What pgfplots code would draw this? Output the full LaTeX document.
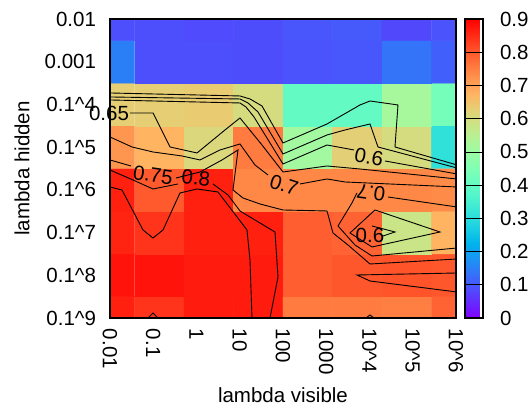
\documentclass[border=0pt]{standalone}
\usepackage{fontspec}
\setmainfont{Liberation Sans}
\usepackage{pgfplots}
\pgfplotsset{compat=1.18}
\pgfplotsset{colormap={gprainbow}{
rgb255=(128,0,255) rgb255=(102,40,254) rgb255=(77,79,252) rgb255=(51,116,248)
rgb255=(26,150,243) rgb255=(0,180,236) rgb255=(26,206,227) rgb255=(51,227,217)
rgb255=(77,243,206) rgb255=(102,252,194) rgb255=(128,255,180) rgb255=(153,252,165)
rgb255=(179,243,150) rgb255=(204,227,133) rgb255=(230,206,116) rgb255=(255,180,98)
rgb255=(255,150,79) rgb255=(255,116,59) rgb255=(255,79,40) rgb255=(255,40,20)
rgb255=(255,0,0)}}
\pgfplotsset{cline/.style={black, line width=0.9pt, no marks}}
\newcommand{\cl}[1]{\addplot[cline] table[header=false, row sep=\\, x expr={(\thisrowno{0}-110)/49.43}, y expr={(318-\thisrowno{1})/42.71}] {#1};}
\begin{document}
\fontsize{20.5pt}{24pt}\selectfont
\begin{tikzpicture}[x=1pt,y=1pt]
\begin{axis}[
  name=ax,
  scale only axis, width=346pt, height=299pt,
  xmin=0, xmax=7, ymin=0, ymax=7,
  clip mode=individual, axis on top,
  colormap name=gprainbow, point meta min=0, point meta max=0.9,
  axis line style={line width=1.2pt},
  major tick length=0pt,
  xtick={0,0.875,1.75,2.625,3.5,4.375,5.25,6.125,7},
  xticklabels={0.01,0.1,1,10,100,1000,10\textasciicircum 4,10\textasciicircum 5,10\textasciicircum 6},
  ytick={0,1,2,3,4,5,6,7},
  yticklabels={0.1\textasciicircum 9,0.1\textasciicircum 8,0.1\textasciicircum 7,0.1\textasciicircum 6,0.1\textasciicircum 5,0.1\textasciicircum 4,0.001,0.01},
  xticklabel style={rotate=-90, anchor=west, inner sep=0pt, outer sep=11pt},
  yticklabel style={anchor=east, inner sep=0pt, outer sep=14pt},
  xlabel={lambda visible}, ylabel={lambda hidden},
  xlabel style={at={(axis description cs:0.5,-0.2575)}, anchor=center},
  ylabel style={at={(axis description cs:-0.254,0.5)}, anchor=center},
  colorbar,
  colorbar style={
    width=18pt,
    at={(parent axis.north east)}, anchor=north west, xshift=0.5pt,
    axis on top,
    ytick={0,0.1,0.2,0.3,0.4,0.5,0.6,0.7,0.8,0.9},
    major tick length=18pt, tick align=inside,
    tick style={black, line width=0.6pt},
    axis line style={line width=1.2pt},
    yticklabel style={anchor=west, inner sep=0pt, outer sep=17pt,
      /pgf/number format/fixed, /pgf/number format/precision=1,
      /pgf/number format/assume math mode=true},
  },
]
\addplot[matrix plot*, mesh/cols=8, point meta=explicit] table[meta index=2] {
x y c
0 0 0.864
1 0 0.841
2 0 0.870
3 0 0.870
4 0 0.755
5 0 0.755
6 0 0.750
7 0 0.785
0 1 0.878
1 1 0.878
2 1 0.870
3 1 0.870
4 1 0.790
5 1 0.800
6 1 0.805
7 1 0.800
0 2 0.860
1 2 0.841
2 2 0.864
3 2 0.864
4 2 0.790
5 2 0.785
6 2 0.580
7 2 0.675
0 3 0.864
1 3 0.797
2 3 0.864
3 3 0.739
4 3 0.739
5 3 0.738
6 3 0.738
7 3 0.735
0 4 0.720
1 4 0.675
2 4 0.610
3 4 0.755
4 4 0.510
5 4 0.625
6 4 0.600
7 4 0.310
0 5 0.630
1 5 0.630
2 5 0.635
3 5 0.600
4 5 0.400
5 5 0.400
6 5 0.520
7 5 0.430
0 6 0.150
1 6 0.090
2 6 0.090
3 6 0.088
4 6 0.095
5 6 0.100
6 6 0.135
7 6 0.110
0 7 0.090
1 7 0.090
2 7 0.085
3 7 0.088
4 7 0.098
5 7 0.102
6 7 0.082
7 7 0.095
};
% contour lines (read in picture pixels, mapped to axis units)
\cl{110 93\\ 240 96\\ 250 99\\ 262 106\\ 283 143\\ 327 124\\ 360 105\\ 370 101\\ 398 105\\ 395 147\\ 457 165\\}
\cl{110 97\\ 240 99\\ 248 103\\ 258 112\\ 283 154\\ 327 135\\ 345 130\\ 370 124\\ 378 147\\ 457 168\\}
\cl{110 100\\ 240 103\\ 246 107\\ 254 117\\ 283 164\\ 327 145\\ 354 150\\}
\cl{385 161\\ 457 174\\}
\cl{130 113\\ 153 113\\ 170 147\\ 197 153\\ 225 130\\ 240 118\\ 262 145\\ 283 172\\ 327 166\\ 360 169\\ 457 179\\}
\cl{110 137\\ 132 147\\ 153 152\\ 182 156\\ 200 160\\ 220 150\\ 240 144\\ 255 165\\ 268 175\\}
\cl{300 184\\ 327 179\\ 345 182\\ 457 187\\}
\cl{110 160\\ 131 166\\}
\cl{176 178\\ 200 172\\ 222 160\\ 238 150\\ 233 190\\ 243 198\\ 260 204\\ 283 210\\ 327 211\\ 333 233\\ 348 245\\ 370 264\\ 457 259\\}
\cl{110 170\\ 133 180\\ 153 189\\ 178 184\\}
\cl{213 184\\ 228 195\\ 240 211\\ 275 232\\ 278 277\\ 270 318\\}
\cl{110 187\\ 122 190\\ 143 230\\ 153 238\\ 163 230\\ 180 193\\ 197 189\\ 218 192\\ 247 230\\ 250 260\\ 252 318\\}
\cl{372 226\\ 395 232\\ 383 236\\}
\cl{375 210\\ 440 232\\ 372 247\\ 350 233\\ 375 210\\}
\cl{457 207\\ 388 197\\}
\cl{357 193\\ 352 203\\ 338 226\\ 355 245\\ 372 256\\ 457 248\\}
\cl{457 273\\ 357 275\\ 370 281\\ 457 292\\}
\cl{148 318\\ 153 313\\ 158 318\\}
\cl{366 318\\ 370 315\\ 374 318\\}
% contour labels
\node at (axis cs:{(109-110)/49.43},{(318-113)/42.71}) {0.65};
\node[rotate=-8] at (axis cs:{(153-110)/49.43},{(318-175)/42.71}) {0.75};
\node[rotate=-5] at (axis cs:{(196-110)/49.43},{(318-178)/42.71}) {0.8};
\node[rotate=-18] at (axis cs:{(284-110)/49.43},{(318-185)/42.71}) {0.7};
\node[rotate=-10] at (axis cs:{(369-110)/49.43},{(318-157)/42.71}) {0.6};
\node[rotate=172] at (axis cs:{(371-110)/49.43},{(318-193)/42.71}) {0.7};
\node at (axis cs:{(370-110)/49.43},{(318-235)/42.71}) {0.6};
\coordinate (LL) at (rel axis cs:0,0);
\end{axis}
\path (LL) ++(-110,-90) rectangle ++(530,408);
\end{tikzpicture}
\end{document}
